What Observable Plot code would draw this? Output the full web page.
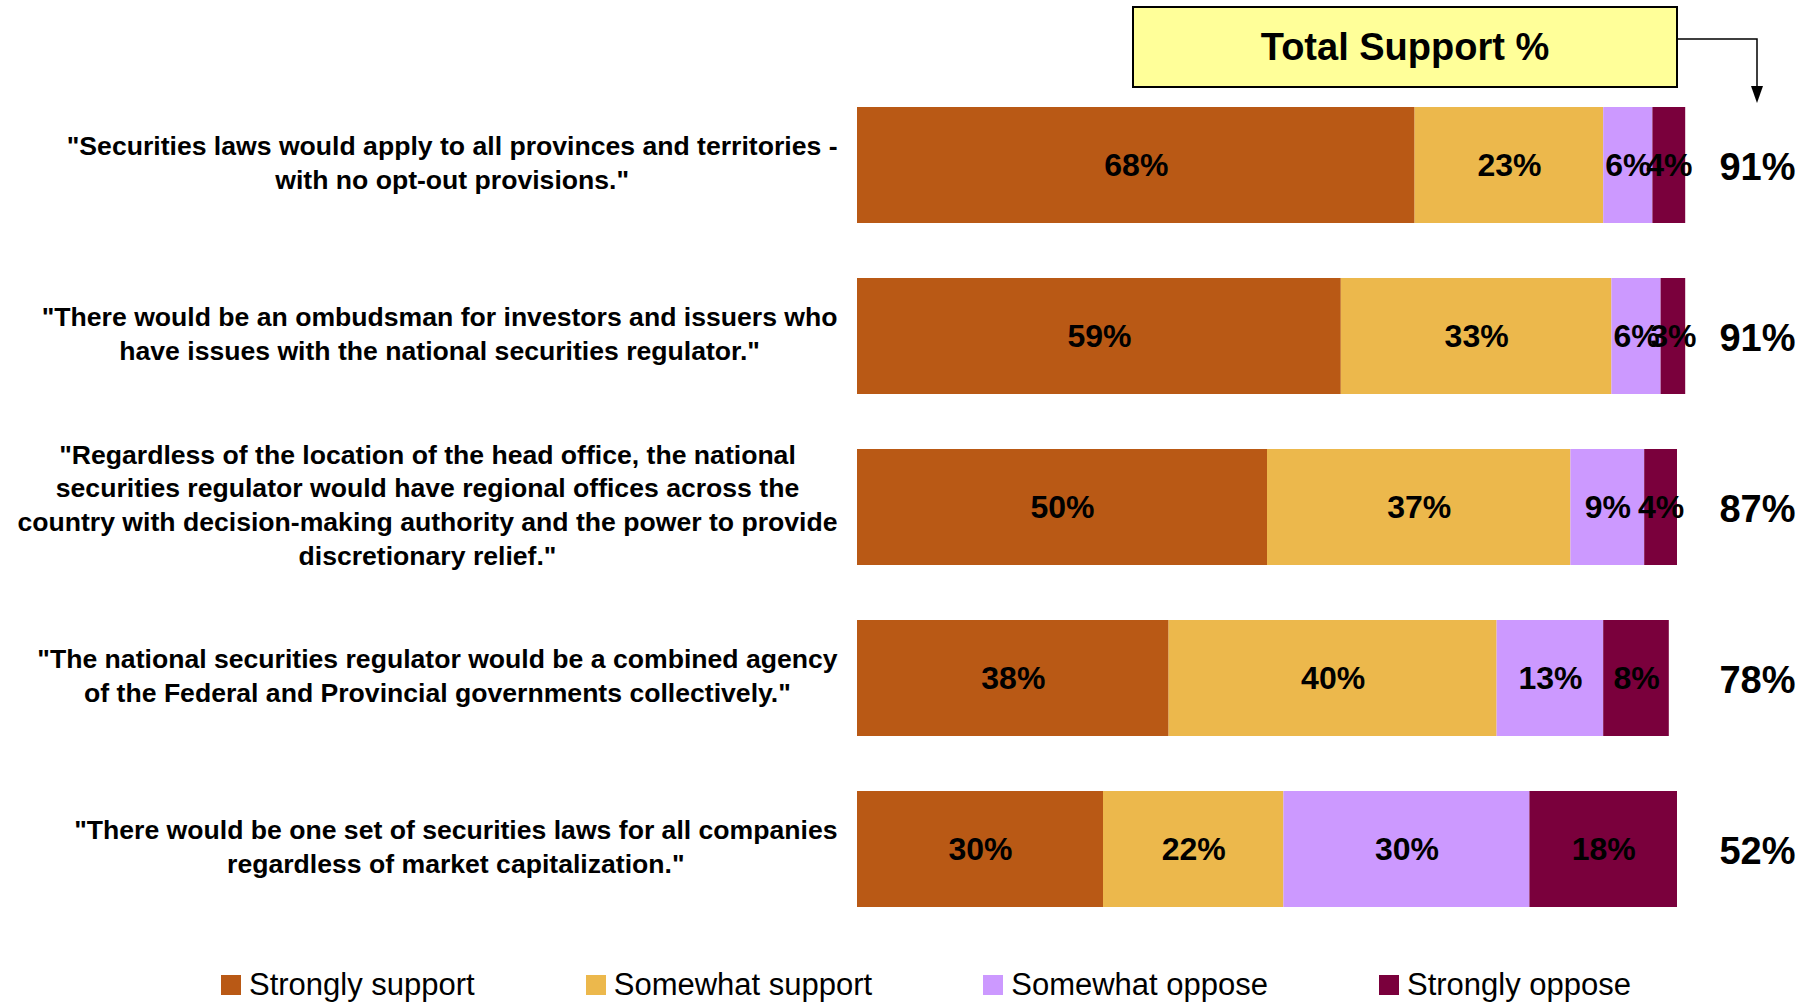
<!DOCTYPE html>
<html><head><meta charset="utf-8">
<script src="https://cdn.jsdelivr.net/npm/d3@7"></script>
<script src="https://cdn.jsdelivr.net/npm/@observablehq/plot@0.6"></script>
<style>
html,body{margin:0;padding:0;background:#fff;}
#chart{width:1818px;}
.lg-swatches{font-family:"Liberation Sans",Arial,sans-serif;font-size:31px;color:#000;padding-left:221px;margin:0;padding-top:10px;}
.lg-swatch{margin-right:111px !important;}
.lg-swatch > svg{margin-right:8px !important;}
</style></head>
<body><div id="chart"></div>
<script>
const statements = [
  "\"Securities laws would apply to all provinces and territories -\nwith no opt-out provisions.\"",
  "\"There would be an ombudsman for investors and issuers who\nhave issues with the national securities regulator.\"",
  "\"Regardless of the location of the head office, the national\nsecurities regulator would have regional offices across the\ncountry with decision-making authority and the power to provide\ndiscretionary relief.\"",
  "\"The national securities regulator would be a combined agency\nof the Federal and Provincial governments collectively.\"",
  "\"There would be one set of securities laws for all companies\nregardless of market capitalization.\""
];
const responses = ["Strongly support", "Somewhat support", "Somewhat oppose", "Strongly oppose"];
const stronglySupport = [68, 59, 50, 38, 30];
const somewhatSupport = [23, 33, 37, 40, 22];
const somewhatOppose = [6, 6, 9, 13, 30];
const stronglyOppose = [4, 3, 4, 8, 18];
const totalSupport = [91, 91, 87, 78, 52];
const colors = ["#B95915", "#ECB84C", "#CC99FF", "#7A003C"];
const totalTitle = "Total Support %";

const series = [stronglySupport, somewhatSupport, somewhatOppose, stronglyOppose];
const rows = statements.flatMap((s, i) => responses.map((r, j) => ({statement: s, response: r, value: series[j][i]})));
const totals = statements.map((s, i) => ({statement: s, total: totalSupport[i]}));

const FONT = "'Liberation Sans', Arial, sans-serif";
const TOTAL_DX = 80;

const chart = Plot.plot({
  width: 1818, height: 957,
  marginLeft: 857, marginRight: 141, marginTop: 88, marginBottom: 31,
  style: {fontFamily: FONT, color: "#000", background: "#fff"},
  x: {domain: [0, 100], axis: null},
  y: {domain: statements, paddingInner: 0.32, paddingOuter: 0.1, axis: null},
  color: {domain: responses, range: colors},
  marks: [
    Plot.barX(rows, Plot.stackX({x: "value", y: "statement", fill: "response", order: responses})),
    Plot.text(rows, Plot.stackX({x: "value", y: "statement", z: "response", order: responses,
      text: d => d.value + "%", fontSize: 32, fontWeight: "bold", fill: "#000"})),
    Plot.text(totals, {y: "statement", text: d => d.total + "%", frameAnchor: "right", textAnchor: "middle",
      dx: TOTAL_DX, dy: 2, fontSize: 38, fontWeight: "bold", fill: "#000"}),
    Plot.axisY({tickSize: 0, tickPadding: 20, dy: -4, fontSize: 26.6, fontWeight: "bold", lineHeight: 1.27,
      fill: "#000", label: null})
  ]
});

const host = document.getElementById("chart");
host.append(chart);

// center each multi-line label block, keeping its right edge at the axis
chart.querySelectorAll('g[aria-label="y-axis tick label"] text').forEach(t => {
  const b = t.getBBox();
  t.setAttribute("text-anchor", "middle");
  t.setAttribute("transform", (t.getAttribute("transform") || "") + ` translate(${b.x + b.width / 2},0)`);
});

// "Total Support %" callout
const xRight = chart.scale("x").apply(100);
const boxW = 544;
const g = d3.select(chart).append("g");
g.append("rect").attr("x", xRight - boxW).attr("y", 7).attr("width", boxW).attr("height", 80)
  .attr("fill", "#FFFF99").attr("stroke", "#000").attr("stroke-width", 2);
g.append("text").attr("x", xRight - boxW / 2).attr("y", 47).attr("dy", "0.35em")
  .attr("text-anchor", "middle").attr("font-size", 38).attr("font-weight", "bold")
  .attr("font-family", FONT).attr("fill", "#000").text(totalTitle);
const cx = xRight + TOTAL_DX;
g.append("path").attr("d", `M${xRight},39H${cx}V92`).attr("fill", "none").attr("stroke", "#000").attr("stroke-width", 1.5);
g.append("path").attr("d", `M${cx - 6},86L${cx + 6},86L${cx},103Z`).attr("fill", "#000");

host.append(chart.legend("color", {swatchSize: 20, className: "lg"}));
</script>
</body></html>
